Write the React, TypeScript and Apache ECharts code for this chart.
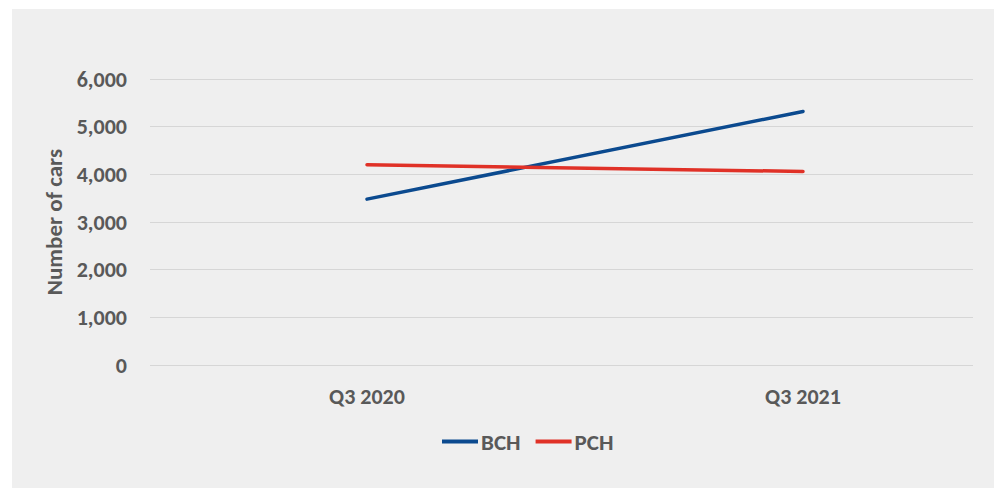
import React, { useEffect, useRef } from "react";
import * as echarts from "echarts";

const categories = ["Q3 2020", "Q3 2021"];
const bchValues = [3480, 5320];
const pchValues = [4200, 4060];
const seriesNames = ["BCH", "PCH"];
const yTicks = { min: 0, max: 6000, interval: 1000 };

const FONT = "Calibri, Carlito, Lato, sans-serif";
const TEXT_COLOR = "#595959";

export default function App() {
  const ref = useRef<HTMLDivElement>(null);
  useEffect(() => {
    if (!ref.current) return;
    const chart = echarts.init(ref.current, undefined, { renderer: "svg" });
    chart.setOption({
      animation: false,
      backgroundColor: "#ffffff",
      graphic: [
        {
          type: "rect",
          silent: true,
          z: -10,
          shape: { x: 12, y: 9, width: 982, height: 479 },
          style: { fill: "#efefef" },
        },
      ],
      grid: [
        { left: 150, top: 79, width: 823, height: 286 },
        { left: 367, top: 79, width: 436, height: 286 },
      ],
      xAxis: [
        { type: "category", gridIndex: 0, data: categories, show: false },
        {
          type: "category",
          gridIndex: 1,
          data: categories,
          boundaryGap: false,
          axisLine: { show: false },
          axisTick: { show: false },
          splitLine: { show: false },
          axisLabel: {
            margin: 20,
            color: TEXT_COLOR,
            fontFamily: FONT,
            fontWeight: "bold",
            fontSize: 22,
          },
        },
      ],
      yAxis: [
        {
          type: "value",
          gridIndex: 0,
          min: yTicks.min,
          max: yTicks.max,
          interval: yTicks.interval,
          name: "Number of cars",
          nameLocation: "middle",
          nameGap: 82,
          nameRotate: 90,
          nameTextStyle: {
            color: TEXT_COLOR,
            fontFamily: FONT,
            fontWeight: "bold",
            fontSize: 23,
          },
          axisLine: { show: false },
          axisTick: { show: false },
          axisLabel: {
            margin: 23,
            color: TEXT_COLOR,
            fontFamily: FONT,
            fontWeight: "bold",
            fontSize: 22,
            formatter: (v: number) => v.toLocaleString("en-US"),
          },
          splitLine: { lineStyle: { color: "#d6d6d6", width: 1.2 } },
        },
        {
          type: "value",
          gridIndex: 1,
          min: yTicks.min,
          max: yTicks.max,
          interval: yTicks.interval,
          show: false,
          splitLine: { show: false },
        },
      ],
      legend: {
        left: 437,
        top: 425,
        icon: "rect",
        itemWidth: 36,
        itemHeight: 4,
        itemGap: 15,
        textStyle: {
          color: TEXT_COLOR,
          fontFamily: FONT,
          fontWeight: "bold",
          fontSize: 23,
          padding: [0, 0, 0, -2],
        },
        data: seriesNames,
      },
      series: [
        {
          name: seriesNames[0],
          type: "line",
          xAxisIndex: 1,
          yAxisIndex: 1,
          data: bchValues,
          showSymbol: false,
          symbol: "none",
          lineStyle: { color: "#0b4a8f", width: 3.5, cap: "round" },
          itemStyle: { color: "#0b4a8f" },
        },
        {
          name: seriesNames[1],
          type: "line",
          xAxisIndex: 1,
          yAxisIndex: 1,
          data: pchValues,
          showSymbol: false,
          symbol: "none",
          lineStyle: { color: "#e03127", width: 3.5, cap: "round" },
          itemStyle: { color: "#e03127" },
        },
      ],
    });
    return () => chart.dispose();
  }, []);
  return (
    <div
      ref={ref}
      style={{ position: "absolute", left: 0, top: 0, width: 995, height: 488 }}
    />
  );
}
